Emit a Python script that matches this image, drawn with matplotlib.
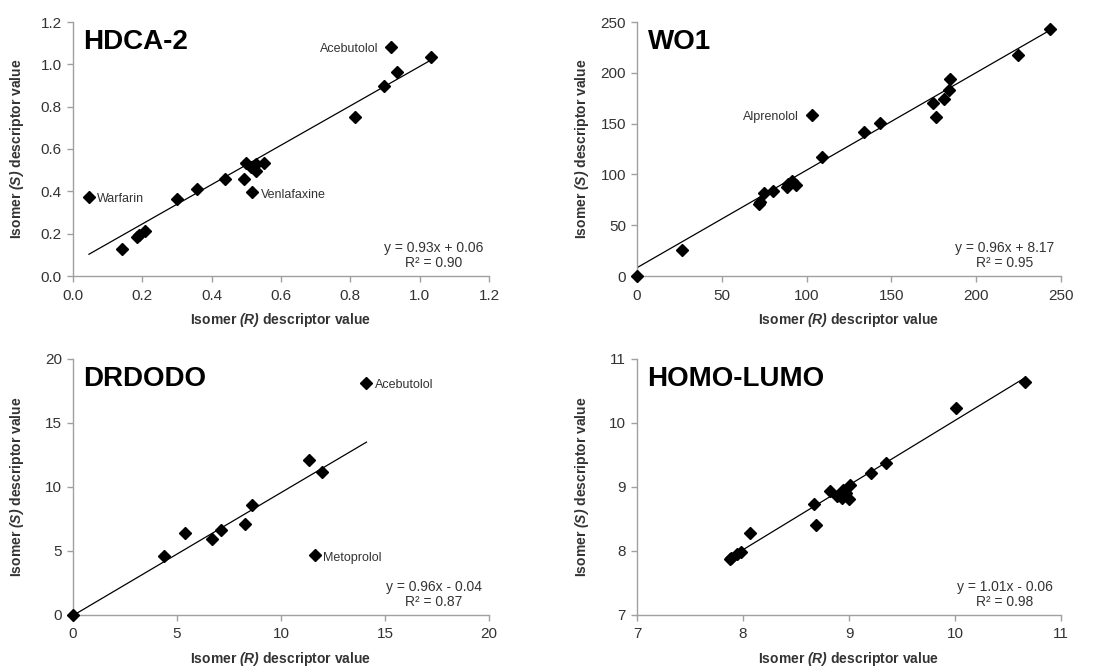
import matplotlib
matplotlib.use("Agg")
import matplotlib.pyplot as plt
import numpy as np

plt.rcParams['font.family'] = ['Liberation Sans', 'DejaVu Sans']
plt.rcParams['mathtext.fontset'] = 'custom'
plt.rcParams['mathtext.rm'] = 'Liberation Sans'
plt.rcParams['mathtext.it'] = 'Liberation Sans:italic'
plt.rcParams['mathtext.bf'] = 'Liberation Sans:bold'
plt.rcParams['mathtext.bfit'] = 'Liberation Sans:italic:bold'

# ---------------- data ----------------
hdca_r = [0.046, 0.142, 0.185, 0.190, 0.207, 0.300, 0.358, 0.438, 0.492, 0.500,
          0.517, 0.513, 0.527, 0.529, 0.552, 0.813, 0.898, 0.935, 0.916, 1.032]
hdca_s = [0.375, 0.128, 0.185, 0.195, 0.211, 0.364, 0.413, 0.460, 0.460, 0.534,
          0.398, 0.517, 0.494, 0.529, 0.535, 0.753, 0.899, 0.965, 1.083, 1.033]

wo1_r = [0.0, 26.4, 72.0, 72.4, 74.7, 79.9, 88.3, 89.3, 91.5, 93.6,
         102.9, 108.8, 134.1, 143.0, 174.3, 176.4, 180.8, 184.1, 184.7, 224.8, 243.3]
wo1_s = [0.0, 25.9, 70.9, 72.5, 82.0, 84.0, 87.3, 90.6, 93.5, 89.2,
         158.1, 117.1, 142.1, 150.9, 170.6, 156.8, 173.9, 183.1, 193.9, 217.2, 242.8]

drdodo_r = [0.0, 4.39, 5.38, 6.68, 7.11, 8.26, 8.60, 11.34, 11.95, 11.64, 14.11]
drdodo_s = [0.0, 4.62, 6.44, 5.95, 6.65, 7.14, 8.58, 12.10, 11.19, 4.67, 18.15]

homo_r = [7.875, 7.89, 7.94, 7.985, 8.07, 8.671, 8.687, 8.822, 8.888, 8.938,
          8.944, 8.976, 8.998, 9.007, 9.203, 9.351, 10.011, 10.657]
homo_s = [7.881, 7.897, 7.95, 7.98, 8.288, 8.737, 8.413, 8.94, 8.867, 8.825,
          8.95, 8.903, 8.815, 9.029, 9.211, 9.368, 10.228, 10.64]

titles = ['HDCA-2', 'WO1', 'DRDODO', 'HOMO-LUMO']
slopes = [0.93, 0.96, 0.96, 1.01]
intercepts = [0.06, 8.17, -0.04, -0.06]
equations = ['y = 0.93x + 0.06\nR² = 0.90', 'y = 0.96x + 8.17\nR² = 0.95',
             'y = 0.96x - 0.04\nR² = 0.87', 'y = 1.01x - 0.06\nR² = 0.98']
x_limits = [(0, 1.2), (0, 250), (0, 20), (7, 11)]
y_limits = [(0, 1.2), (0, 250), (0, 20), (7, 11)]
tick_steps = [0.2, 50, 5, 1]
tick_fmt = ['{:.1f}', '{:.0f}', '{:.0f}', '{:.0f}']

# labelled outliers: (panel, name, x, y, side)
labels = [
    (0, 'Acebutolol', 0.916, 1.083, 'left'),
    (0, 'Warfarin', 0.046, 0.375, 'right'),
    (0, 'Venlafaxine', 0.517, 0.398, 'right'),
    (1, 'Alprenolol', 102.9, 158.1, 'left'),
    (2, 'Acebutolol', 14.11, 18.15, 'right'),
    (2, 'Metoprolol', 11.64, 4.67, 'right'),
]

xs = [hdca_r, wo1_r, drdodo_r, homo_r]
ys = [hdca_s, wo1_s, drdodo_s, homo_s]

fig = plt.figure(figsize=(11, 6.66), dpi=100)
W, H = 1100, 666
boxes = [(73, 22, 489, 276), (637, 22, 1061, 276),
         (73, 359, 489, 615), (637, 359, 1061, 615)]

spine_col = '#a0a0a0'
txt_col = '#333333'
axes = []
for i, (l, t, r, b) in enumerate(boxes):
    ax = fig.add_axes([l / W, 1 - b / H, (r - l) / W, (b - t) / H])
    axes.append(ax)
    x = np.array(xs[i]); y = np.array(ys[i])
    ax.plot(x, y, ls='none', marker='D', ms=6.5, color='black', zorder=3, clip_on=False)
    lx = np.array([x.min(), x.max()])
    ax.plot(lx, slopes[i] * lx + intercepts[i], color='black', lw=0.9, zorder=2)
    ax.set_xlim(*x_limits[i]); ax.set_ylim(*y_limits[i])
    tk = np.arange(x_limits[i][0], x_limits[i][1] + tick_steps[i] / 2, tick_steps[i])
    ax.set_xticks(tk); ax.set_xticklabels([tick_fmt[i].format(v) for v in tk])
    ax.set_yticks(tk); ax.set_yticklabels([tick_fmt[i].format(v) for v in tk])
    for s in ['top', 'right']:
        ax.spines[s].set_visible(False)
    for s in ['left', 'bottom']:
        ax.spines[s].set_color(spine_col)
        ax.spines[s].set_linewidth(1.0)
    ax.tick_params(direction='out', length=4, width=1.0, color=spine_col,
                   labelsize=11, labelcolor=txt_col)
    ax.tick_params(axis='x', pad=5)
    ax.tick_params(axis='y', pad=4)
    ax.set_xlabel(r'Isomer $\mathbfit{(R)}$ descriptor value', fontsize=10,
                  fontweight='bold', color=txt_col, labelpad=6)
    ax.set_ylabel(r'Isomer $\mathbfit{(S)}$ descriptor value', fontsize=10,
                  fontweight='bold', color=txt_col)
    ax.yaxis.set_label_coords(-0.113 if i % 2 == 0 else -0.108, 0.5)
    ax.text(0.025, 0.92, titles[i], transform=ax.transAxes, fontsize=20,
            fontweight='bold', va='center', ha='left', color='black')
    ax.text(0.868, 0.08, equations[i], transform=ax.transAxes, fontsize=10,
            ha='center', va='center', multialignment='center', color=txt_col,
            linespacing=1.05)

for p, name, x0, y0, side in labels:
    ax = axes[p]
    if side == 'left':
        ax.annotate(name, (x0, y0), xytext=(-9, -1.5), textcoords='offset points',
                    ha='right', va='center', fontsize=9, color=txt_col)
    else:
        ax.annotate(name, (x0, y0), xytext=(6, -2), textcoords='offset points',
                    ha='left', va='center', fontsize=9, color=txt_col)

fig.savefig('out.png', dpi=100)
